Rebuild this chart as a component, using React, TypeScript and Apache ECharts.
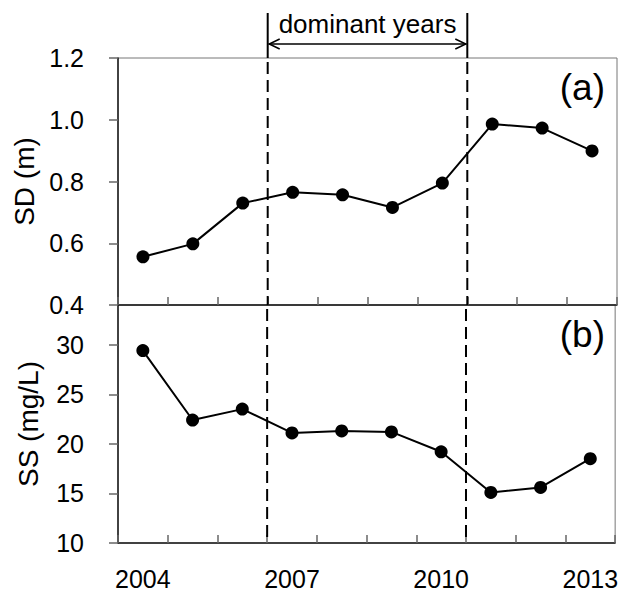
import React, { useEffect, useRef } from "react";
import * as echarts from "echarts";

// ---- data ----
const years = ["2004", "2005", "2006", "2007", "2008", "2009", "2010", "2011", "2012", "2013"];
const sdValues = [0.556, 0.598, 0.73, 0.765, 0.757, 0.716, 0.795, 0.986, 0.973, 0.899];
const ssValues = [29.4, 22.4, 23.5, 21.1, 21.3, 21.2, 19.2, 15.1, 15.6, 18.5];
const dominantYears = [2007, 2010];
const dominantLabel = "dominant years";
const panelLabels = ["(a)", "(b)"];
const sdAxisRange = [0.4, 1.2, 0.2]; // min, max, interval
const ssAxisRange = [10, 34, 5];
const sdName = "SD (m)";
const ssName = "SS (mg/L)";

const FONT = '"Liberation Sans", Arial, Helvetica, sans-serif';

export default function App() {
  const ref = useRef<HTMLDivElement>(null);

  useEffect(() => {
    if (!ref.current) return;
    const chart = echarts.init(ref.current, undefined, { renderer: "svg" });

    const firstYear = Number(years[0]);
    const lastYear = Number(years[years.length - 1]);
    const bounds = [dominantYears[0] - 0.5, dominantYears[1] + 0.5];

    const gridL = 118;
    const gridR = 4;

    const catAxis = (gridIndex: number, showLabel: boolean) => ({
      type: "category",
      gridIndex,
      data: years,
      boundaryGap: true,
      axisLine: { show: true, lineStyle: { color: "#1a1a1a", width: 1.5 } },
      axisTick: { show: true, inside: true, length: 8, interval: 0, lineStyle: { color: "#666", width: 1.5 } },
      axisLabel: showLabel
        ? { show: true, interval: 2, fontSize: 25, color: "#000", fontFamily: FONT, margin: 23 }
        : { show: false },
      splitLine: { show: false },
    });

    const hiddenValX = (gridIndex: number) => ({
      type: "value",
      gridIndex,
      min: firstYear - 0.5,
      max: lastYear + 0.5,
      show: false,
    });

    const valAxis = (gridIndex: number, range: number[], name: string, dec: number, showMax: boolean) => ({
      type: "value",
      gridIndex,
      min: range[0],
      max: range[1],
      interval: range[2],
      name,
      nameLocation: "middle",
      nameGap: 76,
      nameTextStyle: { fontSize: 28, color: "#000", fontFamily: FONT },
      axisLine: { show: true, lineStyle: { color: "#1a1a1a", width: 1.5 } },
      axisTick: { show: true, inside: false, length: 9, lineStyle: { color: "#666", width: 1.5 } },
      axisLabel: {
        fontSize: 25,
        color: "#000",
        fontFamily: FONT,
        margin: 34,
        showMaxLabel: showMax,
        formatter: (v: number) => v.toFixed(dec),
      },
      splitLine: { show: false },
    });

    const dashedRender = (params: any, api: any) => {
      const cs = params.coordSys;
      const x = api.coord([api.value(0), api.value(1)])[0];
      return {
        type: "line",
        shape: { x1: x, y1: cs.y + 4, x2: x, y2: cs.y + cs.height },
        style: { stroke: "#000", lineWidth: 2, lineDash: [12, 6] },
      };
    };

    const lineSeries = (idx: number, data: number[]) => ({
      type: "line",
      xAxisIndex: idx,
      yAxisIndex: idx,
      data,
      symbol: "circle",
      symbolSize: 13,
      z: 3,
      lineStyle: { color: "#000", width: 2 },
      itemStyle: { color: "#000" },
    });

    const option: any = {
      animation: false,
      backgroundColor: "#fff",
      grid: [
        { left: gridL, right: gridR, top: 58, height: 247, show: true, borderColor: "#777", borderWidth: 1 },
        { left: gridL, right: gridR, top: 305, height: 238, show: true, borderColor: "#777", borderWidth: 1 },
        { left: gridL, right: gridR, top: 13, height: 45, show: false },
      ],
      xAxis: [catAxis(0, false), catAxis(1, true), hiddenValX(0), hiddenValX(1), hiddenValX(2)],
      yAxis: [
        valAxis(0, sdAxisRange, sdName, 1, true),
        valAxis(1, ssAxisRange, ssName, 0, false),
        { type: "value", gridIndex: 2, min: 0, max: 1, show: false },
      ],
      series: [
        lineSeries(0, sdValues),
        lineSeries(1, ssValues),
        {
          type: "custom",
          xAxisIndex: 2,
          yAxisIndex: 0,
          clip: false,
          z: 1,
          silent: true,
          data: bounds.map((b) => [b, sdAxisRange[0]]),
          renderItem: dashedRender,
        },
        {
          type: "custom",
          xAxisIndex: 3,
          yAxisIndex: 1,
          clip: false,
          z: 1,
          silent: true,
          data: bounds.map((b) => [b, ssAxisRange[0]]),
          renderItem: dashedRender,
        },
        {
          type: "custom",
          xAxisIndex: 4,
          yAxisIndex: 2,
          clip: false,
          z: 1,
          silent: true,
          data: [[bounds[0], bounds[1]]],
          renderItem: (params: any, api: any) => {
            const cs = params.coordSys;
            const x1 = api.coord([api.value(0), 0])[0];
            const x2 = api.coord([api.value(1), 0])[0];
            const top = cs.y;
            const bottom = cs.y + cs.height;
            const ay = top + 31;
            const st = { stroke: "#000", lineWidth: 1.5, fill: "none" };
            return {
              type: "group",
              children: [
                { type: "line", shape: { x1, y1: top, x2: x1, y2: bottom }, style: { stroke: "#000", lineWidth: 2 } },
                { type: "line", shape: { x1: x2, y1: top, x2, y2: bottom }, style: { stroke: "#000", lineWidth: 2 } },
                { type: "line", shape: { x1: x1 + 1, y1: ay, x2: x2 - 1, y2: ay }, style: st },
                { type: "polyline", shape: { points: [[x1 + 12, ay - 5], [x1 + 1.5, ay], [x1 + 12, ay + 5]] }, style: st },
                { type: "polyline", shape: { points: [[x2 - 12, ay - 5], [x2 - 1.5, ay], [x2 - 12, ay + 5]] }, style: st },
                {
                  type: "text",
                  x: (x1 + x2) / 2,
                  y: top + 11,
                  style: {
                    text: dominantLabel,
                    fontSize: 26,
                    fontFamily: FONT,
                    fill: "#000",
                    align: "center",
                    verticalAlign: "middle",
                  },
                },
              ],
            };
          },
        },
      ],
      graphic: [
        {
          type: "text",
          x: 605,
          y: 87,
          style: { text: panelLabels[0], fontSize: 37, fontFamily: FONT, fill: "#000", align: "right", verticalAlign: "middle" },
        },
        {
          type: "text",
          x: 605,
          y: 334,
          style: { text: panelLabels[1], fontSize: 37, fontFamily: FONT, fill: "#000", align: "right", verticalAlign: "middle" },
        },
      ],
    };

    chart.setOption(option);
    return () => chart.dispose();
  }, []);

  return (
    <div
      ref={ref}
      style={{ position: "fixed", left: 0, top: 0, width: 621, height: 592, background: "#fff" }}
    />
  );
}
